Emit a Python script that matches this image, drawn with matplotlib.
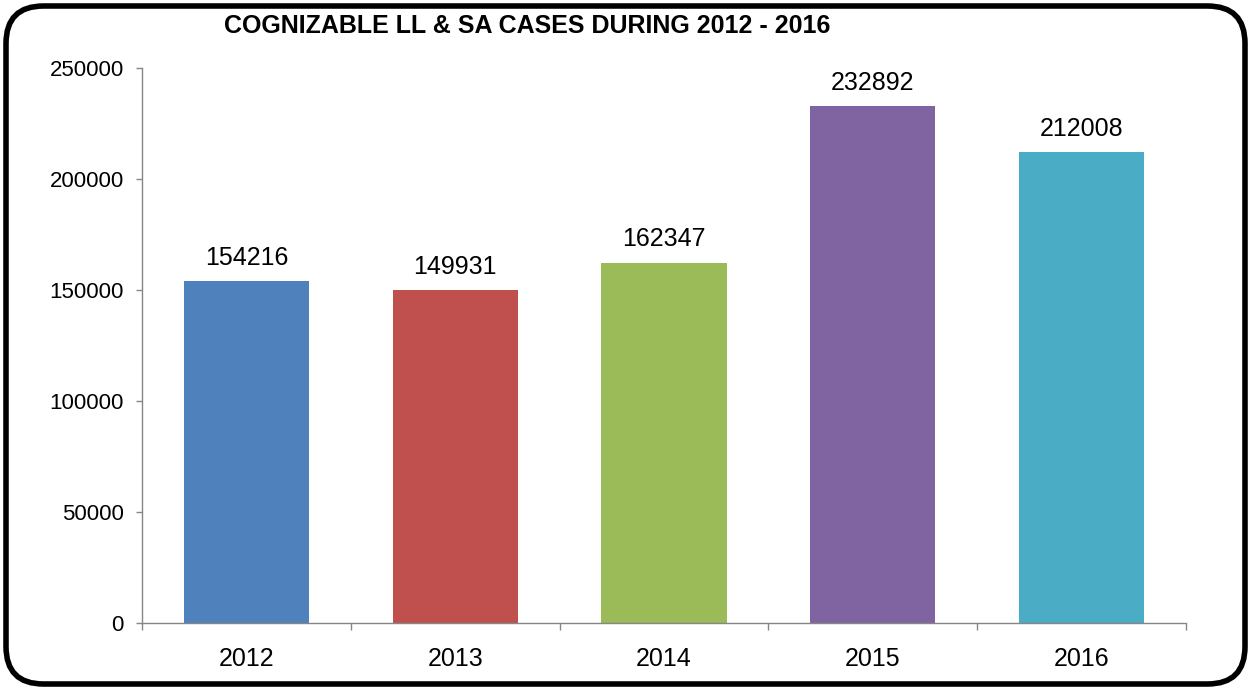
import matplotlib
matplotlib.use("Agg")
import matplotlib.pyplot as plt
from matplotlib.patches import FancyBboxPatch
import numpy as np

plt.rcParams['font.family'] = ['Liberation Sans', 'DejaVu Sans']

years = ["2012", "2013", "2014", "2015", "2016"]
cases = [154216, 149931, 162347, 232892, 212008]
colors = ["#4F81BD", "#C0504D", "#9BBB59", "#8064A2", "#4BACC6"]
title = "COGNIZABLE LL & SA CASES DURING 2012 - 2016"

fig = plt.figure(figsize=(12.51, 6.90), dpi=100)
ax = fig.add_axes([142/1251, 1-623/690, (1186-142)/1251, (623-68)/690])

x = np.arange(len(years))
bars = ax.bar(x, cases, width=0.6, color=colors, zorder=2)
for xi, v in zip(x, cases):
    ax.annotate(str(v), (xi, v), xytext=(0, 8), textcoords="offset points",
                ha="center", va="bottom", fontsize=18)

ax.set_xlim(-0.5, len(years) - 0.5)
ax.set_ylim(0, 250000)
ax.set_yticks(np.arange(0, 250001, 50000))
ax.set_yticklabels([str(int(t)) for t in np.arange(0, 250001, 50000)], fontsize=16)
ax.set_xticks(x)
ax.set_xticklabels(years, fontsize=18)
ax.set_xticks(np.arange(-0.5, len(years), 1), minor=True)
ax.tick_params(axis="x", which="major", length=0, pad=17)
ax.tick_params(axis="x", which="minor", length=5, color="#868686", width=1)
ax.tick_params(axis="y", length=4, color="#868686", width=1, pad=9)

for s in ["top", "right"]:
    ax.spines[s].set_visible(False)
for s in ["left", "bottom"]:
    ax.spines[s].set_color("#868686")
    ax.spines[s].set_linewidth(1)

fig.text(527/1251, 1-26/690, title, ha="center", va="center",
         fontsize=18, fontweight="bold")

border = FancyBboxPatch((6/1251, 6/690), 1239/1251, 678/690,
                        boxstyle="round,pad=0,rounding_size=0.03",
                        transform=fig.transFigure, fill=False,
                        edgecolor="black", linewidth=4, mutation_aspect=1251/690)
fig.patches.append(border)

fig.savefig("out.png", dpi=100)
